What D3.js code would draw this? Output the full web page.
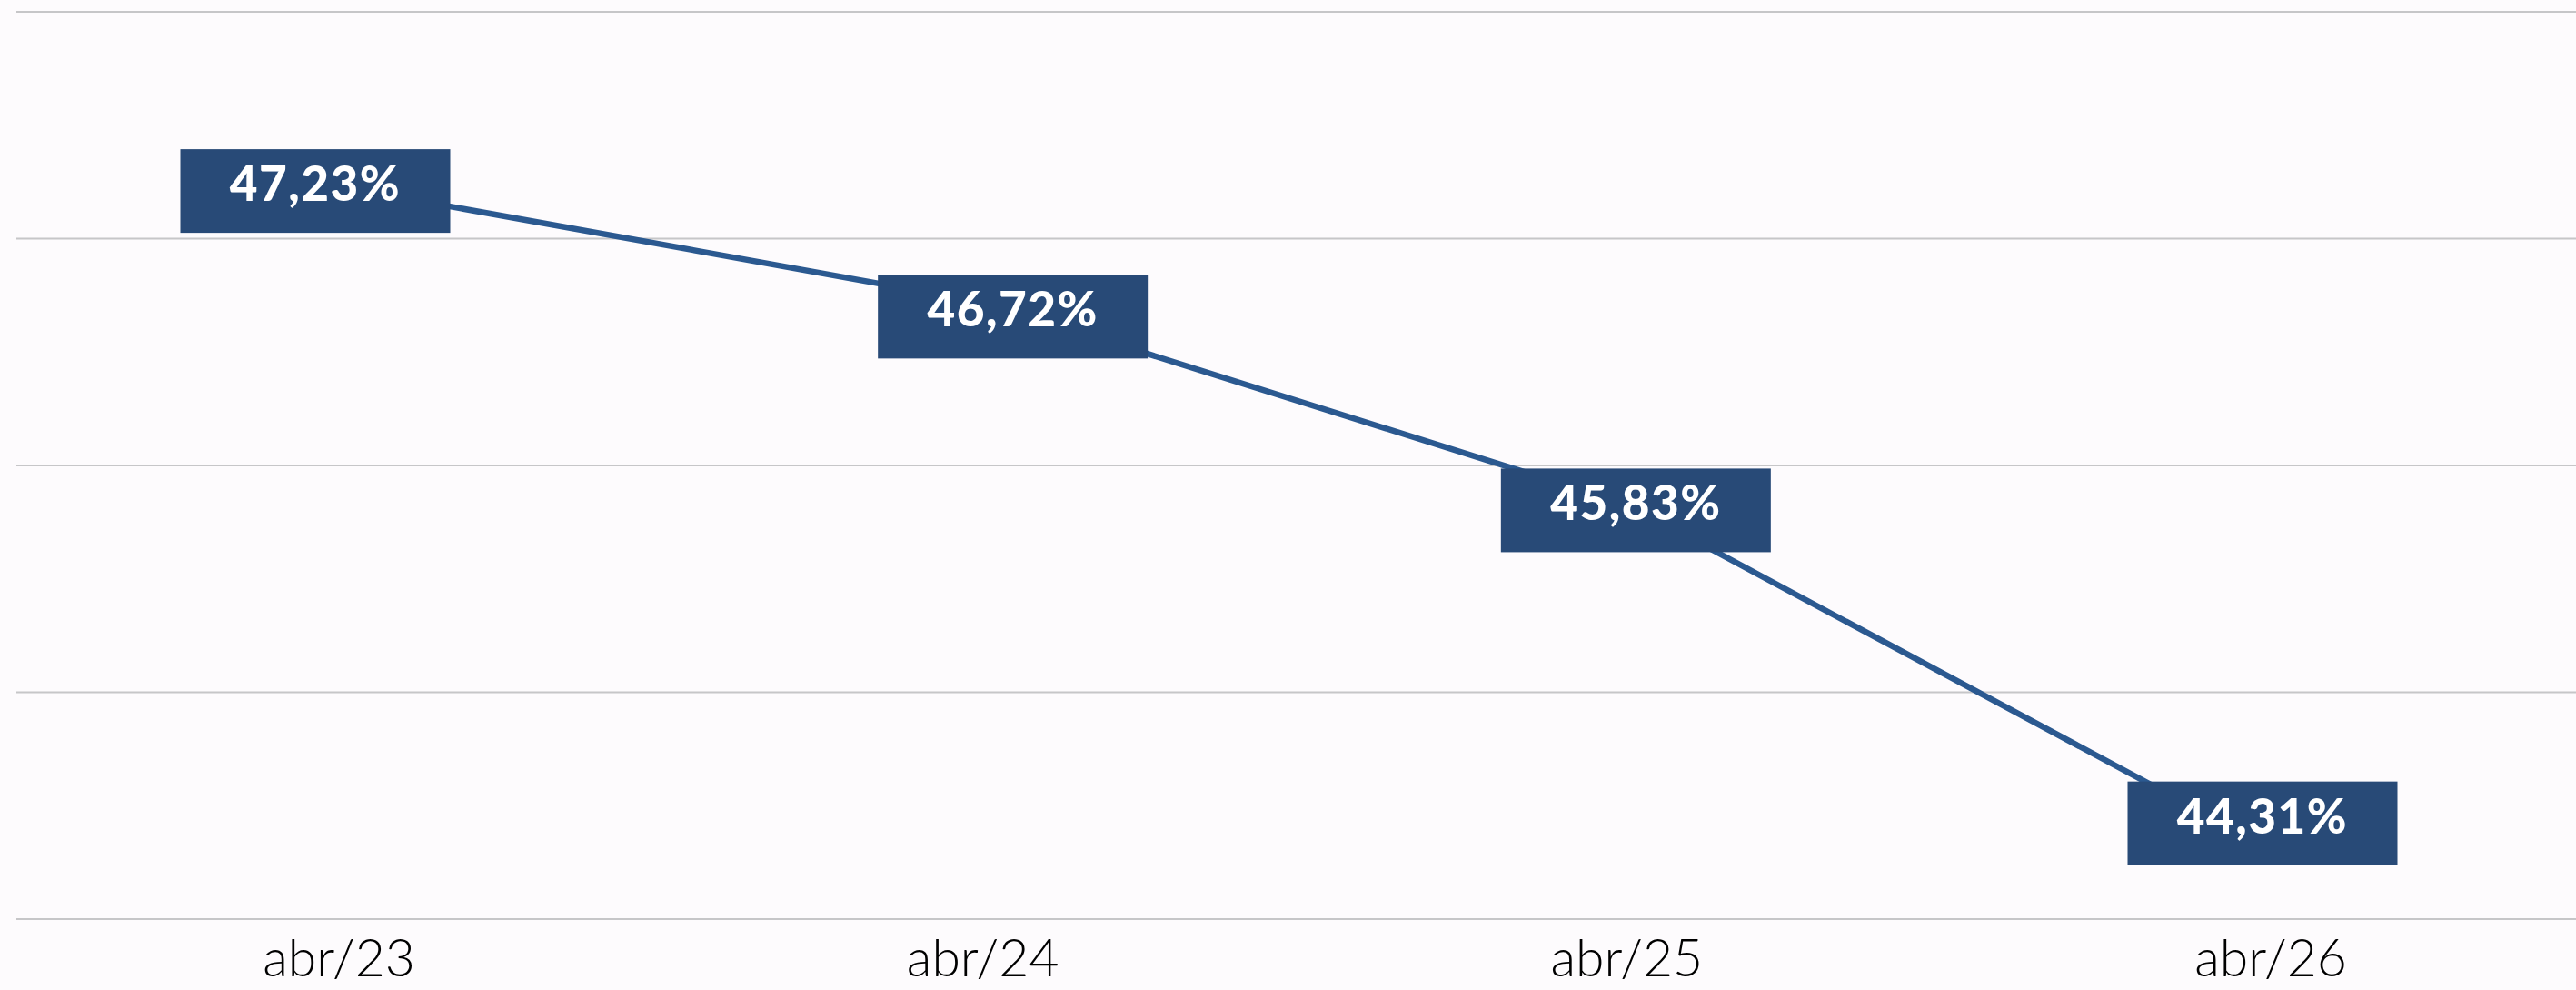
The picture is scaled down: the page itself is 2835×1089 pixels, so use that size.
<!DOCTYPE html>
<html>
<head>
<meta charset="utf-8">
<script src="https://cdn.jsdelivr.net/npm/d3@7"></script>
<style>
  html, body { margin: 0; padding: 0; background: #fdfbfd; }
  svg { display: block; }
</style>
</head>
<body>
<svg id="chart" width="2835" height="1089"></svg>
<script>
// ---- data ----
const categories = ["abr/23", "abr/24", "abr/25", "abr/26"];
const values = [47.23, 46.72, 45.83, 44.31];
const valueLabels = ["47,23%", "46,72%", "45,83%", "44,31%"];
const gridTicks = [44, 45, 46, 47, 48];

// ---- layout (label nudges relative to the data point, in px) ----
const labelNudgeX = [-26, 33, 10, -9];
const labelNudgeY = [5, 16, 7, -28];

const W = 2835, H = 1089;
const svg = d3.select("#chart");

const x = d3.scalePoint().domain(categories).range([373, 2499]);
const y = d3.scaleLinear().domain([44, 48]).range([1011, 13]);

// background
svg.append("rect").attr("width", W).attr("height", H).attr("fill", "#fdfbfd");

// gridlines
svg.append("g").selectAll("line").data(gridTicks).join("line")
  .attr("x1", 18).attr("x2", W)
  .attr("y1", d => y(d)).attr("y2", d => y(d))
  .attr("stroke", "#c6c6c8").attr("stroke-width", 2);

// x axis labels
svg.append("g").selectAll("text").data(categories).join("text")
  .attr("x", d => x(d)).attr("y", 1074)
  .attr("text-anchor", "middle")
  .attr("font-family", "Lato, 'DejaVu Sans', sans-serif")
  .attr("font-weight", 300)
  .attr("font-size", 57)
  .attr("fill", "#000")
  .text(d => d);

// line
const pts = categories.map((c, i) => [x(c), y(values[i])]);
svg.append("path")
  .attr("d", d3.line()(pts))
  .attr("fill", "none")
  .attr("stroke", "#2b5990")
  .attr("stroke-width", 6.5)
  .attr("stroke-linejoin", "round");

// data labels
const boxW = 297, boxH = 92;
const lbl = svg.append("g").selectAll("g").data(categories).join("g")
  .attr("transform", (c, i) => `translate(${x(c) + labelNudgeX[i]},${y(values[i]) + labelNudgeY[i]})`);
lbl.append("rect")
  .attr("x", -boxW / 2).attr("y", -boxH / 2)
  .attr("width", boxW).attr("height", boxH)
  .attr("fill", "#284a77");
lbl.append("text")
  .attr("x", 0).attr("y", 11)
  .attr("text-anchor", "middle")
  .attr("font-family", "Lato, 'DejaVu Sans', sans-serif")
  .attr("font-weight", 900)
  .attr("font-size", 53)
  .attr("letter-spacing", 1.5)
  .attr("fill", "#ffffff")
  .text((c, i) => valueLabels[i]);
</script>
</body>
</html>
